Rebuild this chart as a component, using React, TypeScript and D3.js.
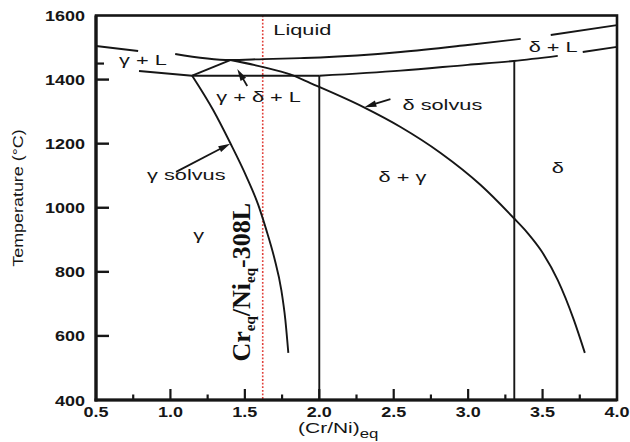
import React from 'react';
import * as d3 from 'd3';

type P = [number, number];

// ---- axis ticks ----
const xTicksMajor = [0.5, 1.0, 1.5, 2.0, 2.5, 3.0, 3.5, 4.0];
const xTickLabels = ['0.5', '1.0', '1.5', '2.0', '2.5', '3.0', '3.5', '4.0'];
const xTicksMinor = [0.75, 1.25, 1.75, 2.25, 2.75, 3.25, 3.75];
const yTicksMajor = [400, 600, 800, 1000, 1200, 1400, 1600];
const yTicksMinor = [1450];

// ---- phase boundaries (Cr/Ni eq, °C) ----
const liquidusLeft: P[] = [[0.5, 1505], [0.783, 1489]];
const liquidusMid: P[] = [[1.032, 1480], [1.402, 1461], [1.624, 1464], [1.873, 1467], [2.007, 1469], [2.546, 1486], [2.997, 1508], [3.353, 1527]];
const liquidusRight: P[] = [[3.555, 1539], [4.0, 1570]];
const gammaSolidus: P[] = [[0.789, 1427], [1.146, 1412]];
const threePhaseLine: P[] = [[1.146, 1412], [2.0, 1412]];
const deltaSolidus: P[] = [[2.0, 1412], [2.546, 1428], [2.997, 1446], [3.306, 1458], [3.602, 1474]];
const deltaSolidusRight: P[] = [[3.77, 1486], [4.0, 1502]];
const triangleLeft: P[] = [[1.146, 1412], [1.402, 1461]];
const deltaSolvus: P[] = [[1.402, 1461], [1.624, 1439], [1.805, 1416], [1.94, 1389], [2.297, 1314], [2.546, 1252], [2.815, 1171], [3.084, 1071], [3.306, 968], [3.4, 921], [3.488, 868], [3.602, 774], [3.71, 650], [3.784, 547]];
const gammaSolvus: P[] = [[1.146, 1412], [1.287, 1305], [1.402, 1202], [1.509, 1099], [1.59, 1009], [1.644, 931], [1.698, 843], [1.745, 743], [1.772, 650], [1.792, 547]];
const verticalA: P[] = [[2.0, 1412], [2.0, 400]];
const verticalB: P[] = [[3.31, 1458], [3.31, 400]];

// arrows: tail -> tip
const arrowGammaSolvus: P[] = [[1.038, 1112], [1.402, 1200]];
const arrowThreePhase: P[] = [[1.516, 1380], [1.449, 1433]];
const arrowDeltaSolvus: P[] = [[2.478, 1339], [2.303, 1314]];

const refRatio = 1.62;

const labelTexts = ['Liquid', 'γ + L', 'δ + L', 'γ + δ + L', 'δ solvus', 'γ solvus', 'δ + γ', 'δ', 'γ'];
const labelX = [1.691, 0.655, 3.407, 1.308, 2.559, 0.843, 2.398, 3.562, 1.153];
const labelT = [1539, 1446, 1486, 1331, 1305, 1086, 1080, 1108, 899];

const W = 630, H = 442;
const M = { left: 96, right: 617, top: 15.5, bottom: 400 };

export default function App() {
  const x = d3.scaleLinear().domain([0.5, 4.0]).range([M.left, M.right]);
  const y = d3.scaleLinear().domain([400, 1600]).range([M.bottom, M.top]);
  const smooth = d3.line<P>().x(d => x(d[0])).y(d => y(d[1])).curve(d3.curveMonotoneX);
  const straight = d3.line<P>().x(d => x(d[0])).y(d => y(d[1]));
  const ink = '#161616';
  const sans = '"Liberation Sans", Arial, sans-serif';

  const curves = [liquidusLeft, liquidusMid, liquidusRight, gammaSolidus, deltaSolidus, deltaSolidusRight, deltaSolvus, gammaSolvus];
  const lines = [threePhaseLine, triangleLeft, verticalA, verticalB];

  const arrow = (a: P[], key: string) => {
    const x0 = x(a[0][0]), y0 = y(a[0][1]), x1 = x(a[1][0]), y1 = y(a[1][1]);
    const dx = x1 - x0, dy = y1 - y0, len = Math.hypot(dx, dy);
    const ux = dx / len, uy = dy / len;
    const hl = 12, hw = 3.2;
    const bx = x1 - ux * hl, by = y1 - uy * hl;
    const pts = `${x1},${y1} ${bx - uy * hw},${by + ux * hw} ${bx + uy * hw},${by - ux * hw}`;
    return (
      <g key={key}>
        <line x1={x0} y1={y0} x2={bx + ux * 2} y2={by + uy * 2} stroke={ink} strokeWidth={1.8} />
        <polygon points={pts} fill={ink} />
      </g>
    );
  };

  return (
    <svg width={W} height={H} style={{ position: 'absolute', left: 0, top: 0, background: '#fff' }}>
      <rect x={0} y={0} width={W} height={H} fill="#fff" />
      {/* reference line */}
      <line x1={x(refRatio)} x2={x(refRatio)} y1={M.top} y2={M.bottom} stroke="#e0403a" strokeWidth={1.6} strokeDasharray="1.8 1.8" />
      {/* phase boundaries */}
      {curves.map((c, i) => (
        <path key={'c' + i} d={smooth(c) || ''} fill="none" stroke={ink} strokeWidth={1.9} strokeLinejoin="round" />
      ))}
      {lines.map((c, i) => (
        <path key={'l' + i} d={straight(c) || ''} fill="none" stroke={ink} strokeWidth={1.9} strokeLinejoin="round" />
      ))}
      {arrow(arrowGammaSolvus, 'a1')}
      {arrow(arrowThreePhase, 'a2')}
      {arrow(arrowDeltaSolvus, 'a3')}
      {/* region labels */}
      {labelTexts.map((t, i) => (
        <text key={'t' + i} transform={`translate(${x(labelX[i])},${y(labelT[i])}) scale(1.45,1)`} fontFamily={sans} fontSize={15} fill={ink}>{t}</text>
      ))}
      {/* rotated composition label */}
      <text transform={`translate(${x(1.535)},${y(520)}) rotate(-90)`} fontFamily='"Liberation Serif", "Times New Roman", serif' fontWeight="bold" fontSize={26} fill="#111">
        Cr<tspan fontSize={15} dy={5}>eq</tspan><tspan dy={-5}>/Ni</tspan><tspan fontSize={15} dy={5}>eq</tspan><tspan dy={-5}>-308L</tspan>
      </text>
      {/* frame */}
      <rect x={M.left} y={M.top} width={M.right - M.left} height={M.bottom - M.top} fill="none" stroke={ink} strokeWidth={2.6} />
      <line x1={M.left} x2={M.left} y1={M.top} y2={M.bottom + 1.5} stroke={ink} strokeWidth={3.2} />
      <line x1={M.left - 1.5} x2={M.right} y1={M.bottom} y2={M.bottom} stroke={ink} strokeWidth={3.2} />
      {/* ticks */}
      {xTicksMajor.slice(1, -1).map(v => (
        <line key={'xm' + v} x1={x(v)} x2={x(v)} y1={M.bottom} y2={M.bottom - 11} stroke={ink} strokeWidth={2.2} />
      ))}
      {xTicksMinor.map(v => (
        <line key={'xn' + v} x1={x(v)} x2={x(v)} y1={M.bottom} y2={M.bottom - 5.5} stroke={ink} strokeWidth={2.2} />
      ))}
      {yTicksMajor.slice(1, -1).map(v => (
        <line key={'ym' + v} x1={M.left} x2={M.left + 13} y1={y(v)} y2={y(v)} stroke={ink} strokeWidth={2.4} />
      ))}
      {yTicksMinor.map(v => (
        <line key={'yn' + v} x1={M.left} x2={M.left + 8} y1={y(v)} y2={y(v)} stroke={ink} strokeWidth={2.2} />
      ))}
      {/* tick labels */}
      {xTicksMajor.map((v, i) => (
        <text key={'xl' + v} transform={`translate(${x(v)},417) scale(1.2,1)`} textAnchor="middle" fontFamily={sans} fontWeight="bold" fontSize={15} fill={ink}>{xTickLabels[i]}</text>
      ))}
      {yTicksMajor.map(v => (
        <text key={'yl' + v} transform={`translate(85,${y(v) + 5.5}) scale(1.2,1)`} textAnchor="end" fontFamily={sans} fontWeight="bold" fontSize={15} fill={ink}>{v}</text>
      ))}
      {/* axis titles */}
      <text transform={`translate(23,198) rotate(-90) scale(1.28,1)`} textAnchor="middle" fontFamily={sans} fontSize={14} fill={ink}>Temperature (°C)</text>
      <text transform={`translate(298,433) scale(1.4,1)`} fontFamily={sans} fontSize={15} fill={ink}>
        (Cr/Ni)<tspan fontSize={12} dy={5}>eq</tspan>
      </text>
    </svg>
  );
}
